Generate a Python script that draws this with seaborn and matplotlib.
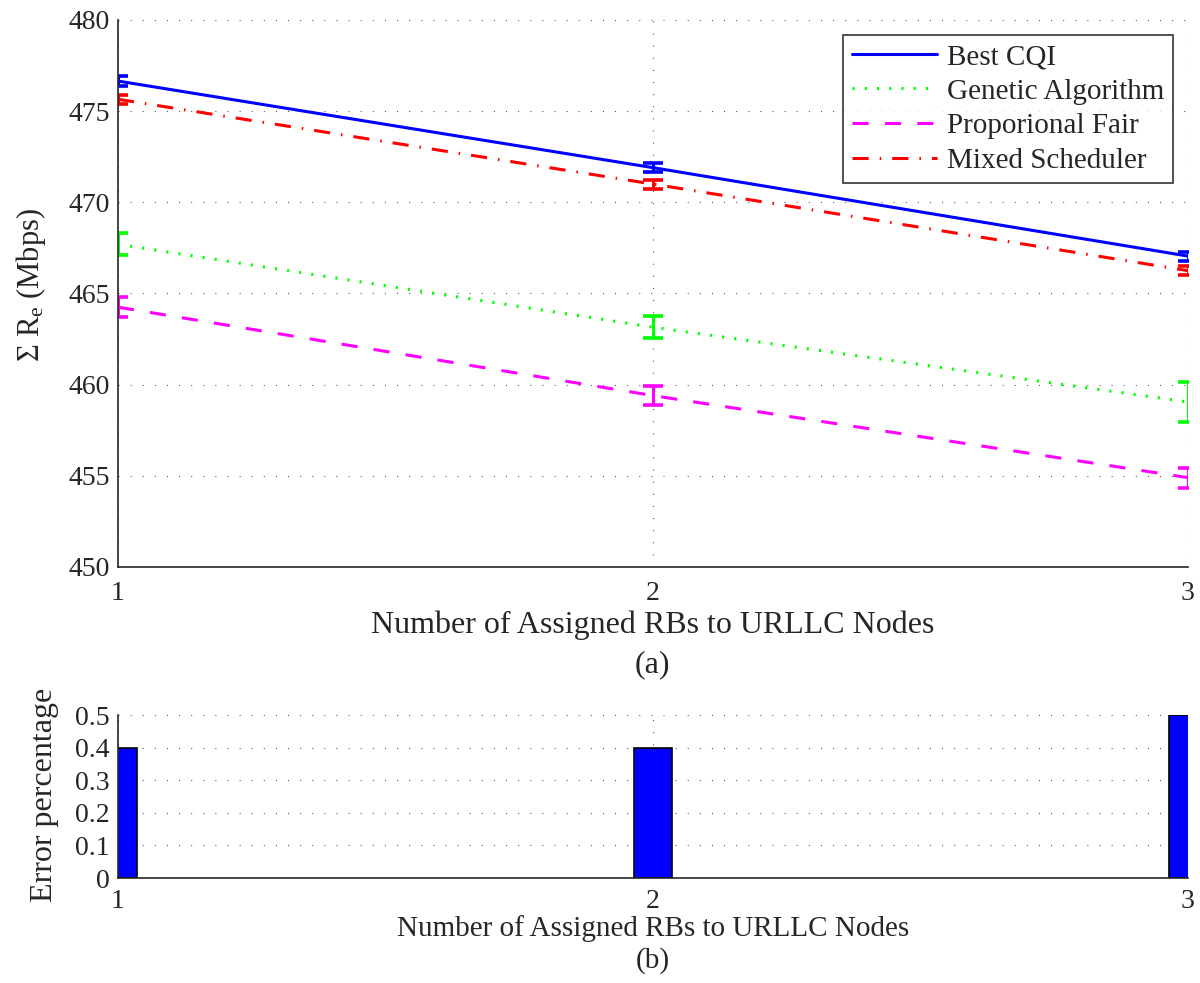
import matplotlib
matplotlib.use('Agg')
import matplotlib.pyplot as plt
import seaborn as sns
import pandas as pd
import numpy as np

# datos
rbs = [1, 2, 3]
best_cqi = [476.65, 471.9, 467.05]
best_cqi_err = [0.25, 0.25, 0.25]
genetic = [467.7, 463.15, 459.05]
genetic_err = [0.6, 0.6, 1.1]
prop_fair = [464.25, 459.4, 454.9]
prop_fair_err = [0.55, 0.5, 0.55]
mixed = [475.65, 471.0, 466.25]
mixed_err = [0.25, 0.25, 0.25]
error_pct = [0.4, 0.4, 0.5]

sns.set_style("white")
plt.rcParams['font.family'] = ['Liberation Serif', 'DejaVu Serif']
plt.rcParams['mathtext.fontset'] = 'custom'
plt.rcParams['mathtext.rm'] = 'Liberation Serif'
plt.rcParams['mathtext.it'] = 'Liberation Serif:italic'

fig = plt.figure(figsize=(12, 9.83), dpi=100)
ax1 = fig.add_axes([0.0983, 0.4232, 0.8917, 0.5565])
ax2 = fig.add_axes([0.0983, 0.1068, 0.8917, 0.1658])

grid_ls = (0, (0.9, 10))

series = [
    ('Best CQI', best_cqi, best_cqi_err, (0, 0, 1), '-'),
    ('Genetic Algorithm', genetic, genetic_err, (0, 1, 0), (0, (0.7, 3.3))),
    ('Proporional Fair', prop_fair, prop_fair_err, (1, 0, 1), (0, (5.3, 5.3))),
    ('Mixed Scheduler', mixed, mixed_err, (1, 0, 0), (0, (5.3, 3.6, 0.5, 3.6))),
]

for nombre, vals, err, col, ls in series:
    df = pd.DataFrame({'x': rbs, 'y': vals})
    sns.lineplot(data=df, x='x', y='y', ax=ax1, color=col, lw=2.2,
                 linestyle=ls, label=nombre)
    ax1.errorbar(rbs, vals, yerr=err, fmt='none', ecolor=col,
                 elinewidth=2.2, capsize=7, capthick=2.6)

ax1.set_xlim(1, 3)
ax1.set_ylim(450, 480)
ax1.set_xticks([1, 2, 3])
ax1.set_yticks(np.arange(450, 481, 5))
ax1.grid(True, linestyle=grid_ls, color='0.3', lw=0.8)
ax1.set_xlabel('Number of Assigned RBs to URLLC Nodes', fontsize=23, va='center')
ax1.xaxis.set_label_coords(0.5, -0.106)
ax1.set_ylabel(r'$\Sigma\ \mathrm{R}_{\mathrm{e}}$ (Mbps)', fontsize=22, va='center')
ax1.yaxis.set_label_coords(-0.081, 0.515)
ax1.tick_params(axis='x', labelsize=20, direction='in', length=5, pad=10)
ax1.tick_params(axis='y', labelsize=20, direction='in', length=5, pad=6)
for s in ['top', 'right']:
    ax1.spines[s].set_visible(False)
for s in ['left', 'bottom']:
    ax1.spines[s].set_linewidth(1.2)
leg = ax1.legend(loc='upper right', fontsize=21, frameon=True, fancybox=False,
                 edgecolor='black', handlelength=2.9, handletextpad=0.35,
                 borderpad=0.3, labelspacing=0.28, borderaxespad=0,
                 bbox_to_anchor=(0.986, 0.9726))
leg.get_frame().set_linewidth(1.2)
fig.text(0.544, 1 - 665 / 983, '(a)', fontsize=23, ha='center', va='center')

dfb = pd.DataFrame({'x': rbs, 'y': error_pct})
sns.barplot(data=dfb, x='x', y='y', ax=ax2, native_scale=True, width=0.07,
            color='blue', saturation=1, edgecolor='black', linewidth=1.2)
ax2.set_xlim(1, 3)
ax2.set_ylim(0, 0.5)
ax2.set_xticks([1, 2, 3])
ax2.set_yticks([0, 0.1, 0.2, 0.3, 0.4, 0.5])
ax2.set_yticklabels(['0', '0.1', '0.2', '0.3', '0.4', '0.5'])
ax2.grid(True, linestyle=grid_ls, color='0.3', lw=0.8)
ax2.set_axisbelow(True)
ax2.set_xlabel('Number of Assigned RBs to URLLC Nodes', fontsize=21, va='center')
ax2.xaxis.set_label_coords(0.5, -0.307)
ax2.set_ylabel('Error percentage', fontsize=23, va='center')
ax2.yaxis.set_label_coords(-0.069, 0.51)
ax2.tick_params(axis='x', labelsize=20, direction='in', length=5, pad=8)
ax2.tick_params(axis='y', labelsize=20, direction='in', length=5, pad=6)
for s in ['top', 'right']:
    ax2.spines[s].set_visible(False)
for s in ['left', 'bottom']:
    ax2.spines[s].set_linewidth(1.2)
fig.text(0.544, 1 - 961 / 983, '(b)', fontsize=21, ha='center', va='center')

fig.savefig('out.png', dpi=100)
